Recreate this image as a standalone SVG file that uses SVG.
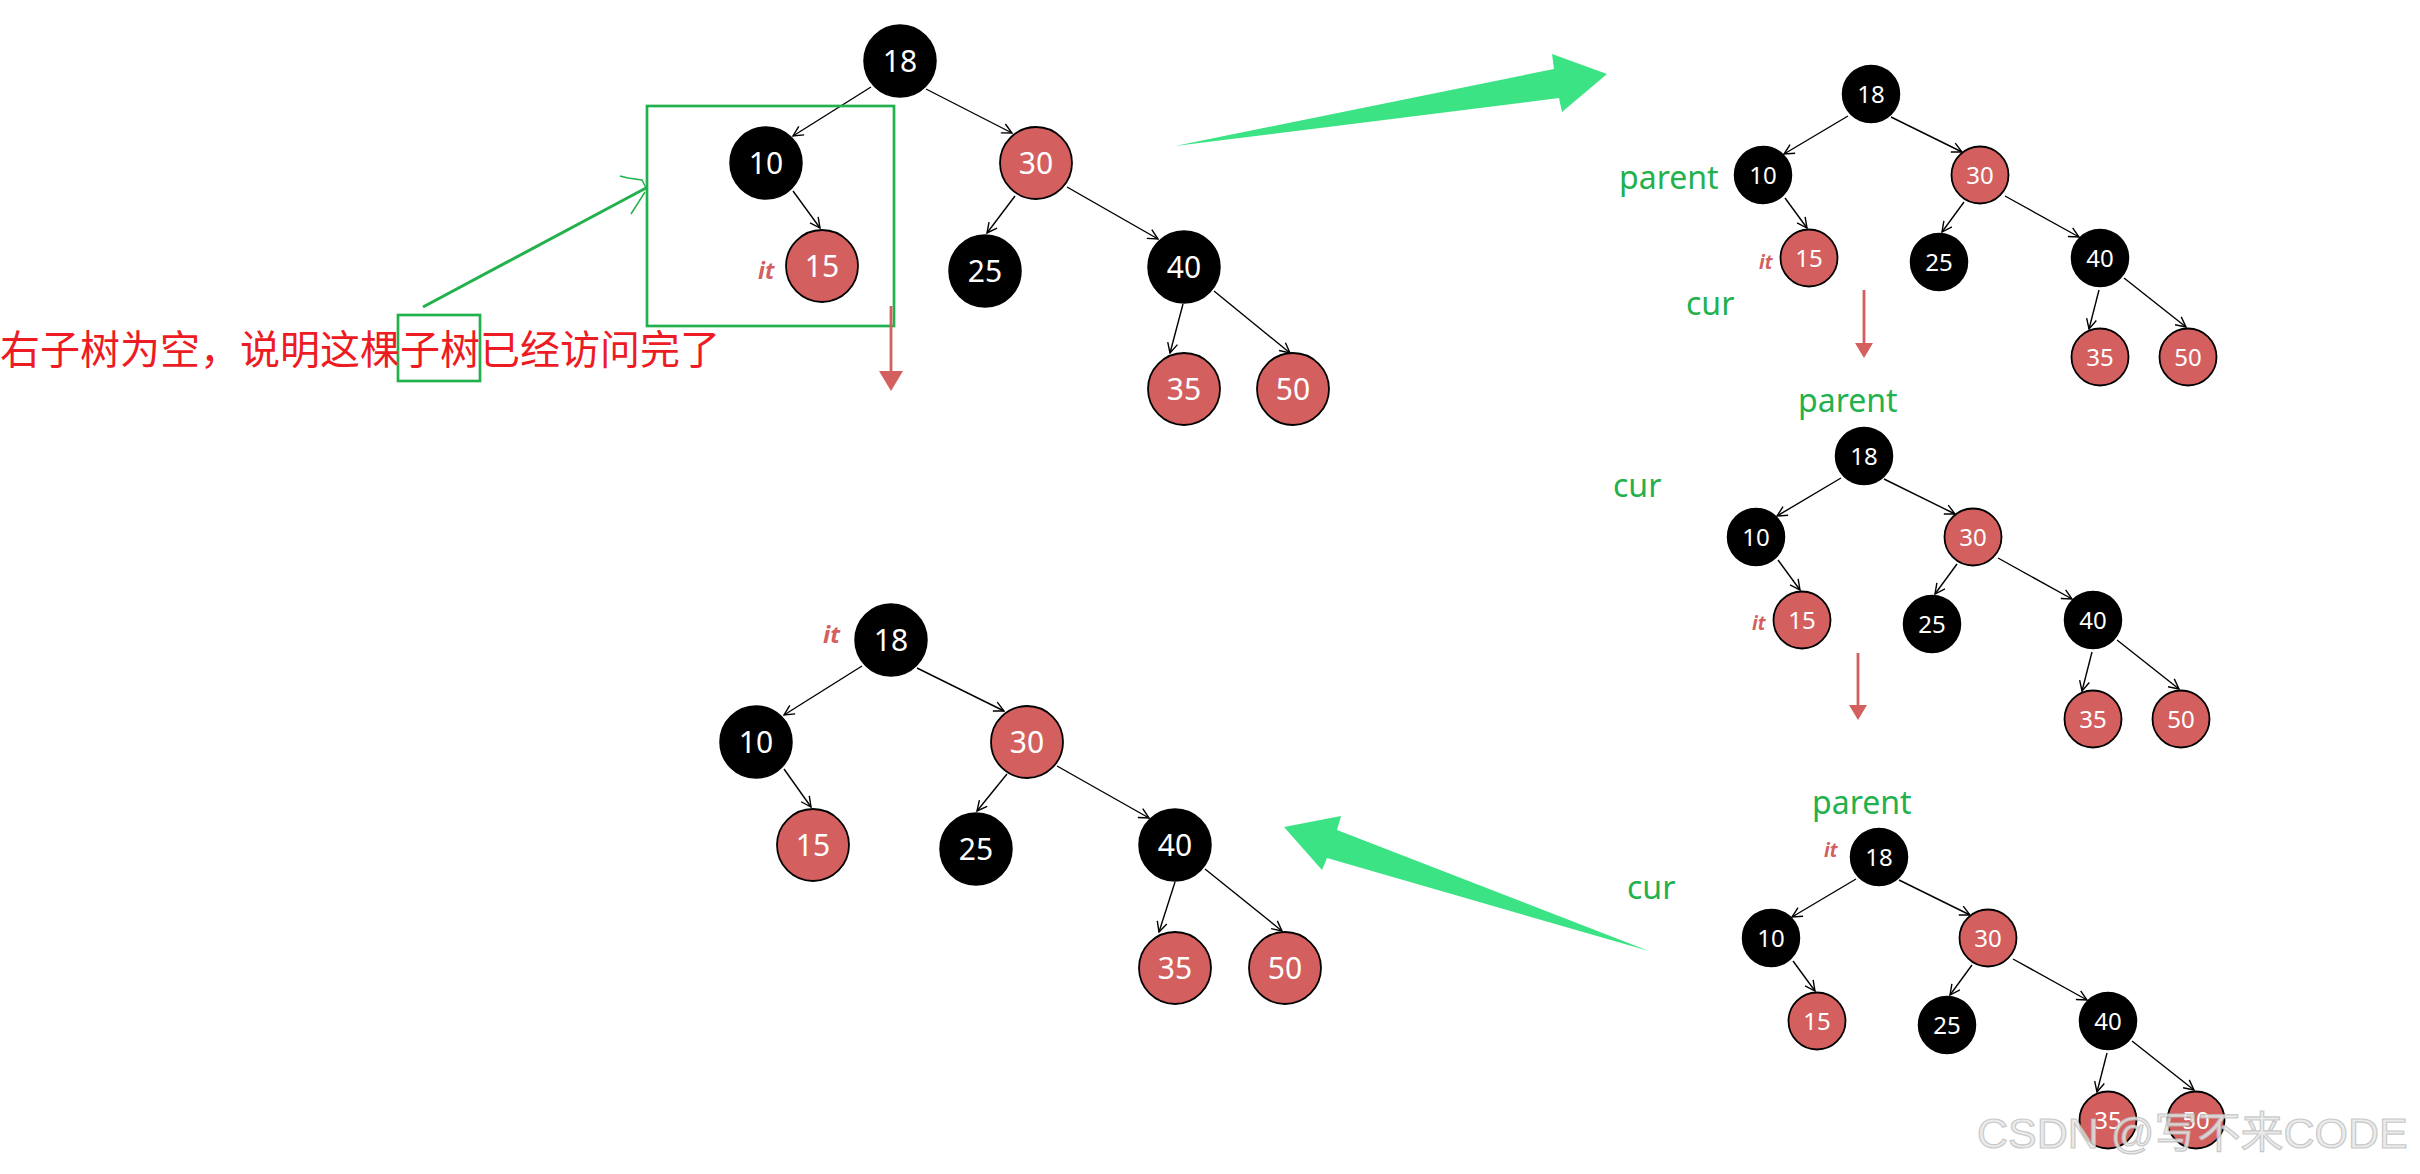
<svg xmlns="http://www.w3.org/2000/svg" width="2420" height="1174" viewBox="0 0 2420 1174">
<style>
.blk{fill:#000;stroke:#000;stroke-width:1.5}
.red{fill:#D35F5F;stroke:#000;stroke-width:1.8}
.num{font-family:"Noto Sans","Liberation Sans",sans-serif;fill:#fff;text-anchor:middle}
.big .num{font-size:30px}
.small .num{font-size:24px}
.edge{stroke:#000;stroke-width:1.4;fill:none;marker-end:url(#open)}
.lbl{font-family:"Noto Sans","Liberation Sans",sans-serif;font-size:32px;fill:#22B14C}
.it{font-family:"Noto Sans","Liberation Sans",sans-serif;font-style:italic;font-weight:bold;fill:#D35F5F}
.rarrow{stroke:#D35F5F;stroke-width:2.8;fill:none}
.rhead{fill:#D35F5F}
.bigarrow{fill:#3BE385}
</style>
<defs>
<marker id="open" markerUnits="userSpaceOnUse" markerWidth="12" markerHeight="12" viewBox="0 0 12 12" refX="11" refY="6" orient="auto">
<path d="M1,1 L11,6 L1,11" fill="none" stroke="#000" stroke-width="1.4"/>
</marker>
</defs>
<rect width="2420" height="1174" fill="#fff"/>

<!-- Tree 1 -->
<g id="tree1" class="big">
<g id="t1-connectors">
<path class="edge" d="M871,87 L793,136"/>
<path class="edge" d="M926,89 L1012,133"/>
<path class="edge" d="M793,191 L820,228"/>
<path class="edge" d="M1015,196 L987,233"/>
<path class="edge" d="M1067,187 L1158,239"/>
<path class="edge" d="M1183,304 L1170,353"/>
<path class="edge" d="M1214,291 L1290,353"/>
</g>
<g id="t1-n18"><circle class="blk" cx="900" cy="61" r="36"/><text class="num" x="900" y="72">18</text></g>
<g id="t1-n10"><circle class="blk" cx="766" cy="163" r="36"/><text class="num" x="766" y="174">10</text></g>
<g id="t1-n30"><circle class="red" cx="1036" cy="163" r="36"/><text class="num" x="1036" y="174">30</text></g>
<g id="t1-n15"><circle class="red" cx="822" cy="266" r="36"/><text class="num" x="822" y="277">15</text></g>
<g id="t1-n25"><circle class="blk" cx="985" cy="271" r="36"/><text class="num" x="985" y="282">25</text></g>
<g id="t1-n40"><circle class="blk" cx="1184" cy="267" r="36"/><text class="num" x="1184" y="278">40</text></g>
<g id="t1-n35"><circle class="red" cx="1184" cy="389" r="36"/><text class="num" x="1184" y="400">35</text></g>
<g id="t1-n50"><circle class="red" cx="1293" cy="389" r="36"/><text class="num" x="1293" y="400">50</text></g>
<text class="it" x="758" y="279" font-size="23">it</text>
</g>

<!-- annotation on tree 1 -->
<g id="annotation">
<rect x="647" y="106" width="247" height="220" fill="none" stroke="#22B14C" stroke-width="2.7"/>
<rect x="398" y="315" width="82" height="66" fill="none" stroke="#22B14C" stroke-width="2.7"/>
<text x="0" y="364" font-family="'Noto Sans CJK SC','Noto Sans',sans-serif" font-size="40" fill="#ED1C24">右子树为空，说明这棵子树已经访问完了</text>
<path d="M423,307 L646,188" stroke="#22B14C" stroke-width="3" fill="none"/>
<path d="M620,176 L628,178 L642,180 L646,188 M631,214 L638,203 L645,192" stroke="#22B14C" stroke-width="1.5" fill="none"/>
<path class="rarrow" d="M891,306 L891,372"/>
<polygon class="rhead" points="879,371 903,371 891,391"/>
</g>

<!-- big green arrows -->
<polygon id="arrow-top" class="bigarrow" points="1175,146 1554,69 1552,54 1607,74 1562,112 1559,98"/>
<polygon id="arrow-bottom" class="bigarrow" points="1649,951 1337,830 1341,816 1284,827 1322,870 1327,858"/>

<!-- Tree 2 -->
<g id="tree2" class="small" transform="translate(1871,94)">
<g id="t2-connectors">
<path class="edge" d="M-23,22 L-87,60"/>
<path class="edge" d="M20,23 L91,58"/>
<path class="edge" d="M-86,104 L-64,134"/>
<path class="edge" d="M93,108 L71,138"/>
<path class="edge" d="M134,102 L208,143"/>
<path class="edge" d="M228,196 L218,235"/>
<path class="edge" d="M253,184 L315,233"/>
</g>
<g id="t2-n18"><circle class="blk" cx="0" cy="0" r="28.5"/><text class="num" x="0" y="8.5">18</text></g>
<g id="t2-n10"><circle class="blk" cx="-108" cy="81" r="28.5"/><text class="num" x="-108" y="89.5">10</text></g>
<g id="t2-n30"><circle class="red" cx="109" cy="81" r="28.5"/><text class="num" x="109" y="89.5">30</text></g>
<g id="t2-n15"><circle class="red" cx="-62" cy="164" r="28.5"/><text class="num" x="-62" y="172.5">15</text></g>
<g id="t2-n25"><circle class="blk" cx="68" cy="168" r="28.5"/><text class="num" x="68" y="176.5">25</text></g>
<g id="t2-n40"><circle class="blk" cx="229" cy="164" r="28.5"/><text class="num" x="229" y="172.5">40</text></g>
<g id="t2-n35"><circle class="red" cx="229" cy="263" r="28.5"/><text class="num" x="229" y="271.5">35</text></g>
<g id="t2-n50"><circle class="red" cx="317" cy="263" r="28.5"/><text class="num" x="317" y="271.5">50</text></g>
</g>
<text class="lbl" x="1619" y="189">parent</text>
<text class="lbl" x="1686" y="315">cur</text>
<text class="it" x="1759" y="269" font-size="19">it</text>
<path class="rarrow" d="M1864,290 L1864,344"/>
<polygon class="rhead" points="1855,343 1873,343 1864,358"/>
<text class="lbl" x="1798" y="412">parent</text>

<!-- Tree 3 -->
<g id="tree3" class="small" transform="translate(1864,456)">
<g id="t3-connectors">
<path class="edge" d="M-23,22 L-87,60"/>
<path class="edge" d="M20,23 L91,58"/>
<path class="edge" d="M-86,104 L-64,134"/>
<path class="edge" d="M93,108 L71,138"/>
<path class="edge" d="M134,102 L208,143"/>
<path class="edge" d="M228,196 L218,235"/>
<path class="edge" d="M253,184 L315,233"/>
</g>
<g id="t3-n18"><circle class="blk" cx="0" cy="0" r="28.5"/><text class="num" x="0" y="8.5">18</text></g>
<g id="t3-n10"><circle class="blk" cx="-108" cy="81" r="28.5"/><text class="num" x="-108" y="89.5">10</text></g>
<g id="t3-n30"><circle class="red" cx="109" cy="81" r="28.5"/><text class="num" x="109" y="89.5">30</text></g>
<g id="t3-n15"><circle class="red" cx="-62" cy="164" r="28.5"/><text class="num" x="-62" y="172.5">15</text></g>
<g id="t3-n25"><circle class="blk" cx="68" cy="168" r="28.5"/><text class="num" x="68" y="176.5">25</text></g>
<g id="t3-n40"><circle class="blk" cx="229" cy="164" r="28.5"/><text class="num" x="229" y="172.5">40</text></g>
<g id="t3-n35"><circle class="red" cx="229" cy="263" r="28.5"/><text class="num" x="229" y="271.5">35</text></g>
<g id="t3-n50"><circle class="red" cx="317" cy="263" r="28.5"/><text class="num" x="317" y="271.5">50</text></g>
</g>
<text class="lbl" x="1613" y="497">cur</text>
<text class="it" x="1752" y="630" font-size="19">it</text>
<path class="rarrow" d="M1858,653 L1858,706"/>
<polygon class="rhead" points="1849,705 1867,705 1858,720"/>

<!-- Tree 4 -->
<g id="tree4" class="small" transform="translate(1879,857)">
<g id="t4-connectors">
<path class="edge" d="M-23,22 L-87,60"/>
<path class="edge" d="M20,23 L91,58"/>
<path class="edge" d="M-86,104 L-64,134"/>
<path class="edge" d="M93,108 L71,138"/>
<path class="edge" d="M134,102 L208,143"/>
<path class="edge" d="M228,196 L218,235"/>
<path class="edge" d="M253,184 L315,233"/>
</g>
<g id="t4-n18"><circle class="blk" cx="0" cy="0" r="28.5"/><text class="num" x="0" y="8.5">18</text></g>
<g id="t4-n10"><circle class="blk" cx="-108" cy="81" r="28.5"/><text class="num" x="-108" y="89.5">10</text></g>
<g id="t4-n30"><circle class="red" cx="109" cy="81" r="28.5"/><text class="num" x="109" y="89.5">30</text></g>
<g id="t4-n15"><circle class="red" cx="-62" cy="164" r="28.5"/><text class="num" x="-62" y="172.5">15</text></g>
<g id="t4-n25"><circle class="blk" cx="68" cy="168" r="28.5"/><text class="num" x="68" y="176.5">25</text></g>
<g id="t4-n40"><circle class="blk" cx="229" cy="164" r="28.5"/><text class="num" x="229" y="172.5">40</text></g>
<g id="t4-n35"><circle class="red" cx="229" cy="263" r="28.5"/><text class="num" x="229" y="271.5">35</text></g>
<g id="t4-n50"><circle class="red" cx="317" cy="263" r="28.5"/><text class="num" x="317" y="271.5">50</text></g>
</g>
<text class="lbl" x="1812" y="814">parent</text>
<text class="lbl" x="1627" y="899">cur</text>
<text class="it" x="1824" y="857" font-size="19">it</text>

<!-- Tree 5 -->
<g id="tree5" class="big">
<g id="t5-connectors">
<path class="edge" d="M862,666 L784,715"/>
<path class="edge" d="M917,668 L1004,711"/>
<path class="edge" d="M784,769 L811,807"/>
<path class="edge" d="M1007,774 L977,811"/>
<path class="edge" d="M1057,766 L1149,818"/>
<path class="edge" d="M1175,882 L1159,932"/>
<path class="edge" d="M1205,869 L1282,931"/>
</g>
<g id="t5-n18"><circle class="blk" cx="891" cy="640" r="36"/><text class="num" x="891" y="651">18</text></g>
<g id="t5-n10"><circle class="blk" cx="756" cy="742" r="36"/><text class="num" x="756" y="753">10</text></g>
<g id="t5-n30"><circle class="red" cx="1027" cy="742" r="36"/><text class="num" x="1027" y="753">30</text></g>
<g id="t5-n15"><circle class="red" cx="813" cy="845" r="36"/><text class="num" x="813" y="856">15</text></g>
<g id="t5-n25"><circle class="blk" cx="976" cy="849" r="36"/><text class="num" x="976" y="860">25</text></g>
<g id="t5-n40"><circle class="blk" cx="1175" cy="845" r="36"/><text class="num" x="1175" y="856">40</text></g>
<g id="t5-n35"><circle class="red" cx="1175" cy="968" r="36"/><text class="num" x="1175" y="979">35</text></g>
<g id="t5-n50"><circle class="red" cx="1285" cy="968" r="36"/><text class="num" x="1285" y="979">50</text></g>
<text class="it" x="823" y="643" font-size="24">it</text>
</g>

<!-- watermark -->
<text x="1977" y="1148" font-family="'Liberation Sans','Noto Sans CJK SC',sans-serif" font-size="43" fill="#e8e8e8" fill-opacity="0.85" stroke="#bdbdbd" stroke-width="1.2" stroke-opacity="0.8">CSDN @写不来CODE</text>
</svg>
